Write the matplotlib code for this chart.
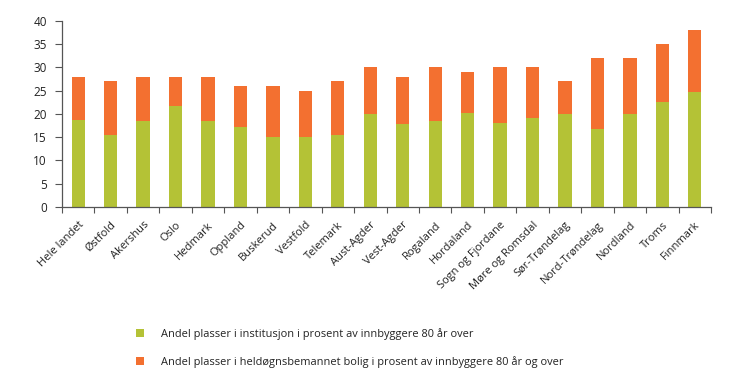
import numpy as np
import matplotlib
matplotlib.use('Agg')
from matplotlib import pyplot as plt

plt.rcParams['font.family'] = ['Open Sans', 'DejaVu Sans']

fylker = ['Hele landet', 'Østfold', 'Akershus', 'Oslo', 'Hedmark', 'Oppland',
          'Buskerud', 'Vestfold', 'Telemark', 'Aust-Agder', 'Vest-Agder',
          'Rogaland', 'Hordaland', 'Sogn og Fjordane', 'Møre og Romsdal',
          'Sør-Trøndelag', 'Nord-Trøndelag', 'Nordland', 'Troms', 'Finnmark']
institusjon = [18.6, 15.4, 18.4, 21.6, 18.4, 17.2, 15.0, 15.0, 15.4, 20.0,
               17.8, 18.4, 20.2, 18.0, 19.2, 19.9, 16.8, 20.0, 22.5, 24.7]
totalt = [28, 27, 28, 28, 28, 26, 26, 25, 27, 30,
          28, 30, 29, 30, 30, 27, 32, 32, 35, 38]
bolig = [t - i for t, i in zip(totalt, institusjon)]

lab_inst = 'Andel plasser i institusjon i prosent av innbyggere 80 år over'
lab_bolig = 'Andel plasser i heldøgnsbemannet bolig i prosent av innbyggere 80 år og over'

green = '#b4c236'
orange = '#f37030'
txt = '#222222'

fig = plt.figure(figsize=(7.3, 3.89), dpi=100)
ax = fig.add_axes([62/730, 1 - 207/389, (711 - 62)/730, (207 - 20.7)/389])

x = np.arange(len(fylker))
w = 0.41
b1 = ax.bar(x, institusjon, w, color=green, label=lab_inst)
b2 = ax.bar(x, bolig, w, bottom=institusjon, color=orange, label=lab_bolig)

ax.set_xlim(-0.5, len(fylker) - 0.5)
ax.set_ylim(0, 40)
ax.set_yticks(range(0, 41, 5))
ax.set_xticks(np.arange(-0.5, len(fylker), 1))
ax.set_xticklabels([])
ax.set_xticks(x, minor=True)
ax.set_xticklabels(fylker, minor=True, rotation=45, ha='right',
                   rotation_mode='anchor', fontsize=8, color=txt)
ax.tick_params(axis='x', which='minor', length=0, pad=9)
ax.tick_params(axis='x', which='major', length=4, color='#555555')
ax.tick_params(axis='y', length=5, color='#555555', labelsize=8.5,
               labelcolor=txt, pad=6)

for s in ['top', 'right']:
    ax.spines[s].set_visible(False)
for s in ['left', 'bottom']:
    ax.spines[s].set_color('#555555')
    ax.spines[s].set_linewidth(0.9)

fig.legend(handles=[b1, b2], loc='upper left',
           bbox_to_anchor=(136/730, 1 - 328/389), frameon=False,
           fontsize=7.9, handlelength=0.75, handleheight=0.75,
           handletextpad=1.5, labelspacing=1.5, borderpad=0,
           borderaxespad=0, labelcolor=txt)

fig.savefig('out.png', dpi=100)
